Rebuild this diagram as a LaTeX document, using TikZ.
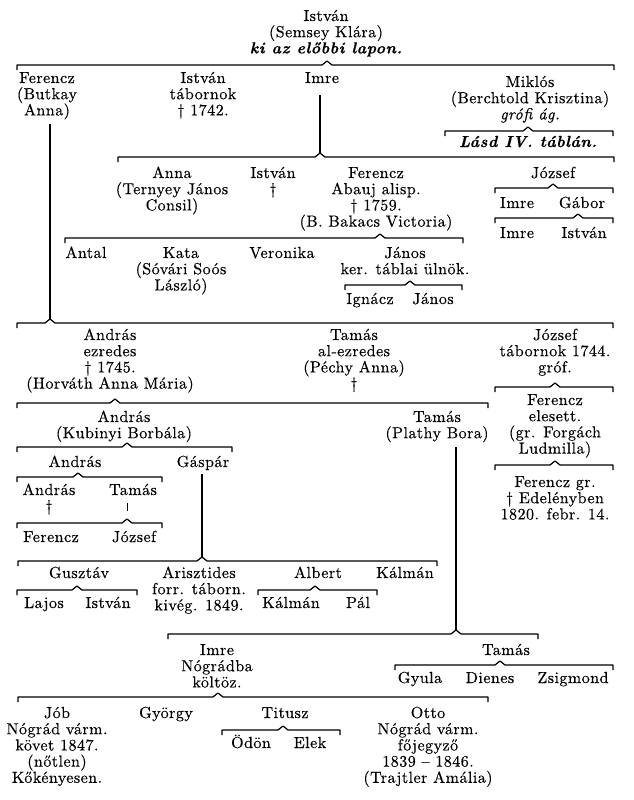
\documentclass[tikz,border=0pt]{standalone}
\usepackage{fontspec}
\setmainfont{lmroman10}[Extension=.otf, UprightFont=*-regular, BoldFont=*-bold,
  ItalicFont=*-italic, BoldItalicFont=*-bolditalic, LetterSpace=3, FakeBold=0.4]
\usepackage{tikz}

\tikzset{
  famline/.style={line width=1.2pt, line join=round},
  stem/.style={line width=1.2pt},
}
% family bracket: peak name, y, left end, peak x, right end
\newcommand{\famline}[5]{%
  \coordinate (#1) at (#4,#2-4);
  \draw[famline] (#3,#2+5) -- (#3,#2) -- (#4-5,#2) -- (#1) -- (#4+5,#2) -- (#5,#2) -- (#5,#2+5);
}

% nodes sit on the baseline of their last line
\begin{document}
\begin{tikzpicture}[x=1pt, y=-1pt,
    every node/.style={align=center, inner sep=0pt, anchor=base,
      font=\fontsize{16}{16.2}\selectfont}]
  \useasboundingbox (0,0) rectangle (634,800);

  \node (ist0) at (326,53.4) {István\\(Semsey Klára)\\{\bfseries\itshape ki az előbbi lapon.}};
  \famline{b0}{65}{17}{327}{614}

  \node (fer1)  at (47,115.4)  {Ferencz\\(Butkay\\Anna)};
  \node (ist1)  at (203,115.4) {István\\tábornok\\† 1742.};
  \node (imre1) at (322,83)    {Imre};
  \node (mik)   at (530,119.4) {Miklós\\(Berchtold Krisztina)\\{\itshape grófi ág.}};
  \famline{bm}{131}{445}{528}{613}
  \node (lasd)  at (528,147) {\bfseries\itshape Lásd IV. táblán.};

  \famline{b2}{157}{118}{320}{614}
  \draw[stem, shorten <=12pt] (imre1.south -| b2) -- (b2);
  \node (anna)  at (172,210.4) {Anna\\(Ternyey János\\Consil)};
  \node (ist2)  at (273,194.2) {István\\†};
  \node (fer2)  at (376,226.6) {Ferencz\\Abauj alisp.\\† 1759.\\(B. Bakacs Victoria)};
  \node (joz1)  at (553,178)   {József};
  \famline{bj}{188}{495}{553}{613}
  \node (imre3) at (517,208) {Imre};
  \node (gab)   at (582,208) {Gábor};
  \famline{bg}{218}{495}{578}{613}
  \node (imre4) at (517,238) {Imre};
  \node (ist3)  at (584,238) {István};

  \famline{b3}{238}{65}{380}{463}
  \node (antal) at (86,258)    {Antal};
  \node (kata)  at (181,290.4) {Kata\\(Sóvári Soós\\László)};
  \node (veron) at (282,258)   {Veronika};
  \node (jan1)  at (405,274.2) {János\\ker. táblai ülnök.};
  \famline{bjan}{285}{345}{410}{462}
  \node (ign)   at (370,304) {Ignácz};
  \node (jan2)  at (433,304) {János};

  \famline{b4}{323}{17}{50}{613}
  \draw[stem, shorten <=4pt] (fer1.south -| b4) -- (b4);
  \node (andr1) at (110,388.6) {András\\ezredes\\† 1745.\\(Horváth Anna Mária)};
  \node (tam1)  at (354,388.6) {Tamás\\al-ezredes\\(Péchy Anna)\\†};
  \node (joz2)  at (555,372.4) {József\\tábornok 1744.\\gróf.};
  \famline{bjo}{387}{495}{555}{613}
  \node (fer4)  at (555,453.6) {Ferencz\\elesett.\\(gr. Forgách\\Ludmilla)};
  \famline{bfe}{465}{495}{555}{613}
  \node (fer5)  at (555,519.4) {Ferencz gr.\\† Edelényben\\1820. febr. 14.};

  \famline{b5}{403}{17}{115}{488}
  \node (andr2) at (124,438.2) {András\\(Kubinyi Borbála)};
  \node (tam2)  at (437,438.2) {Tamás\\(Plathy Bora)};
  \famline{b6}{447}{17}{127}{232}
  \node (andr3) at (75,467)  {András};
  \node (gasp)  at (203,467) {Gáspár};
  \famline{b7}{477}{17}{78}{162}
  \node (andr4) at (49,511.2) {András\\†};
  \node (tam3)  at (133,495)  {Tamás};
  \famline{b7b}{523}{17}{127}{162}
  \draw[line width=0.6pt, shorten <=8pt] (tam3.south -| b7b) -- ++(0,16);
  \node (fer3)  at (51,542)  {Ferencz};
  \node (joz3)  at (134,542) {József};

  \famline{b8}{561}{18}{202}{437}
  \draw[stem, shorten <=4pt] (gasp.south -| b8) -- (b8);
  \node (gusz)  at (79,578)    {Gusztáv};
  \node (arisz) at (199,610.4) {Arisztides\\forr. táborn.\\kivég. 1849.};
  \node (alb)   at (318,578)   {Albert};
  \node (kalm1) at (405,578)   {Kálmán};
  \famline{bgu}{590}{17}{77}{137}
  \node (lajos) at (44,608)  {Lajos};
  \node (ist4)  at (108,608) {István};
  \famline{bal}{590}{258}{315}{377}
  \node (kalm2) at (291,608) {Kálmán};
  \node (pal)   at (358,608) {Pál};

  \famline{b9}{634}{168}{456}{538}
  \draw[stem, shorten <=5pt] (tam2.south -| b9) -- (b9);
  \node (imre5) at (217,687.4) {Imre\\Nógrádba\\költöz.};
  \node (tam4)  at (506,655)   {Tamás};
  \famline{bt}{665}{395}{500}{613}
  \node (gyula) at (420,683) {Gyula};
  \node (dien)  at (490,683) {Dienes};
  \node (zsig)  at (573,683) {Zsigmond};

  \famline{b10}{697}{18}{218}{488}
  \node (job)   at (57,782.8)  {Jób\\Nógrád várm.\\követ 1847.\\(nőtlen)\\Kőkényesen.};
  \node (gyor)  at (166,718)   {György};
  \node (tit)   at (285,718)   {Titusz};
  \node (otto)  at (428,782.8) {Otto\\Nógrád várm.\\főjegyző\\1839 – 1846.\\(Trajtler Amália)};
  \famline{bti}{730}{222}{283}{340}
  \node (odon)  at (251,748) {Ödön};
  \node (elek)  at (310,748) {Elek};
\end{tikzpicture}
\end{document}
